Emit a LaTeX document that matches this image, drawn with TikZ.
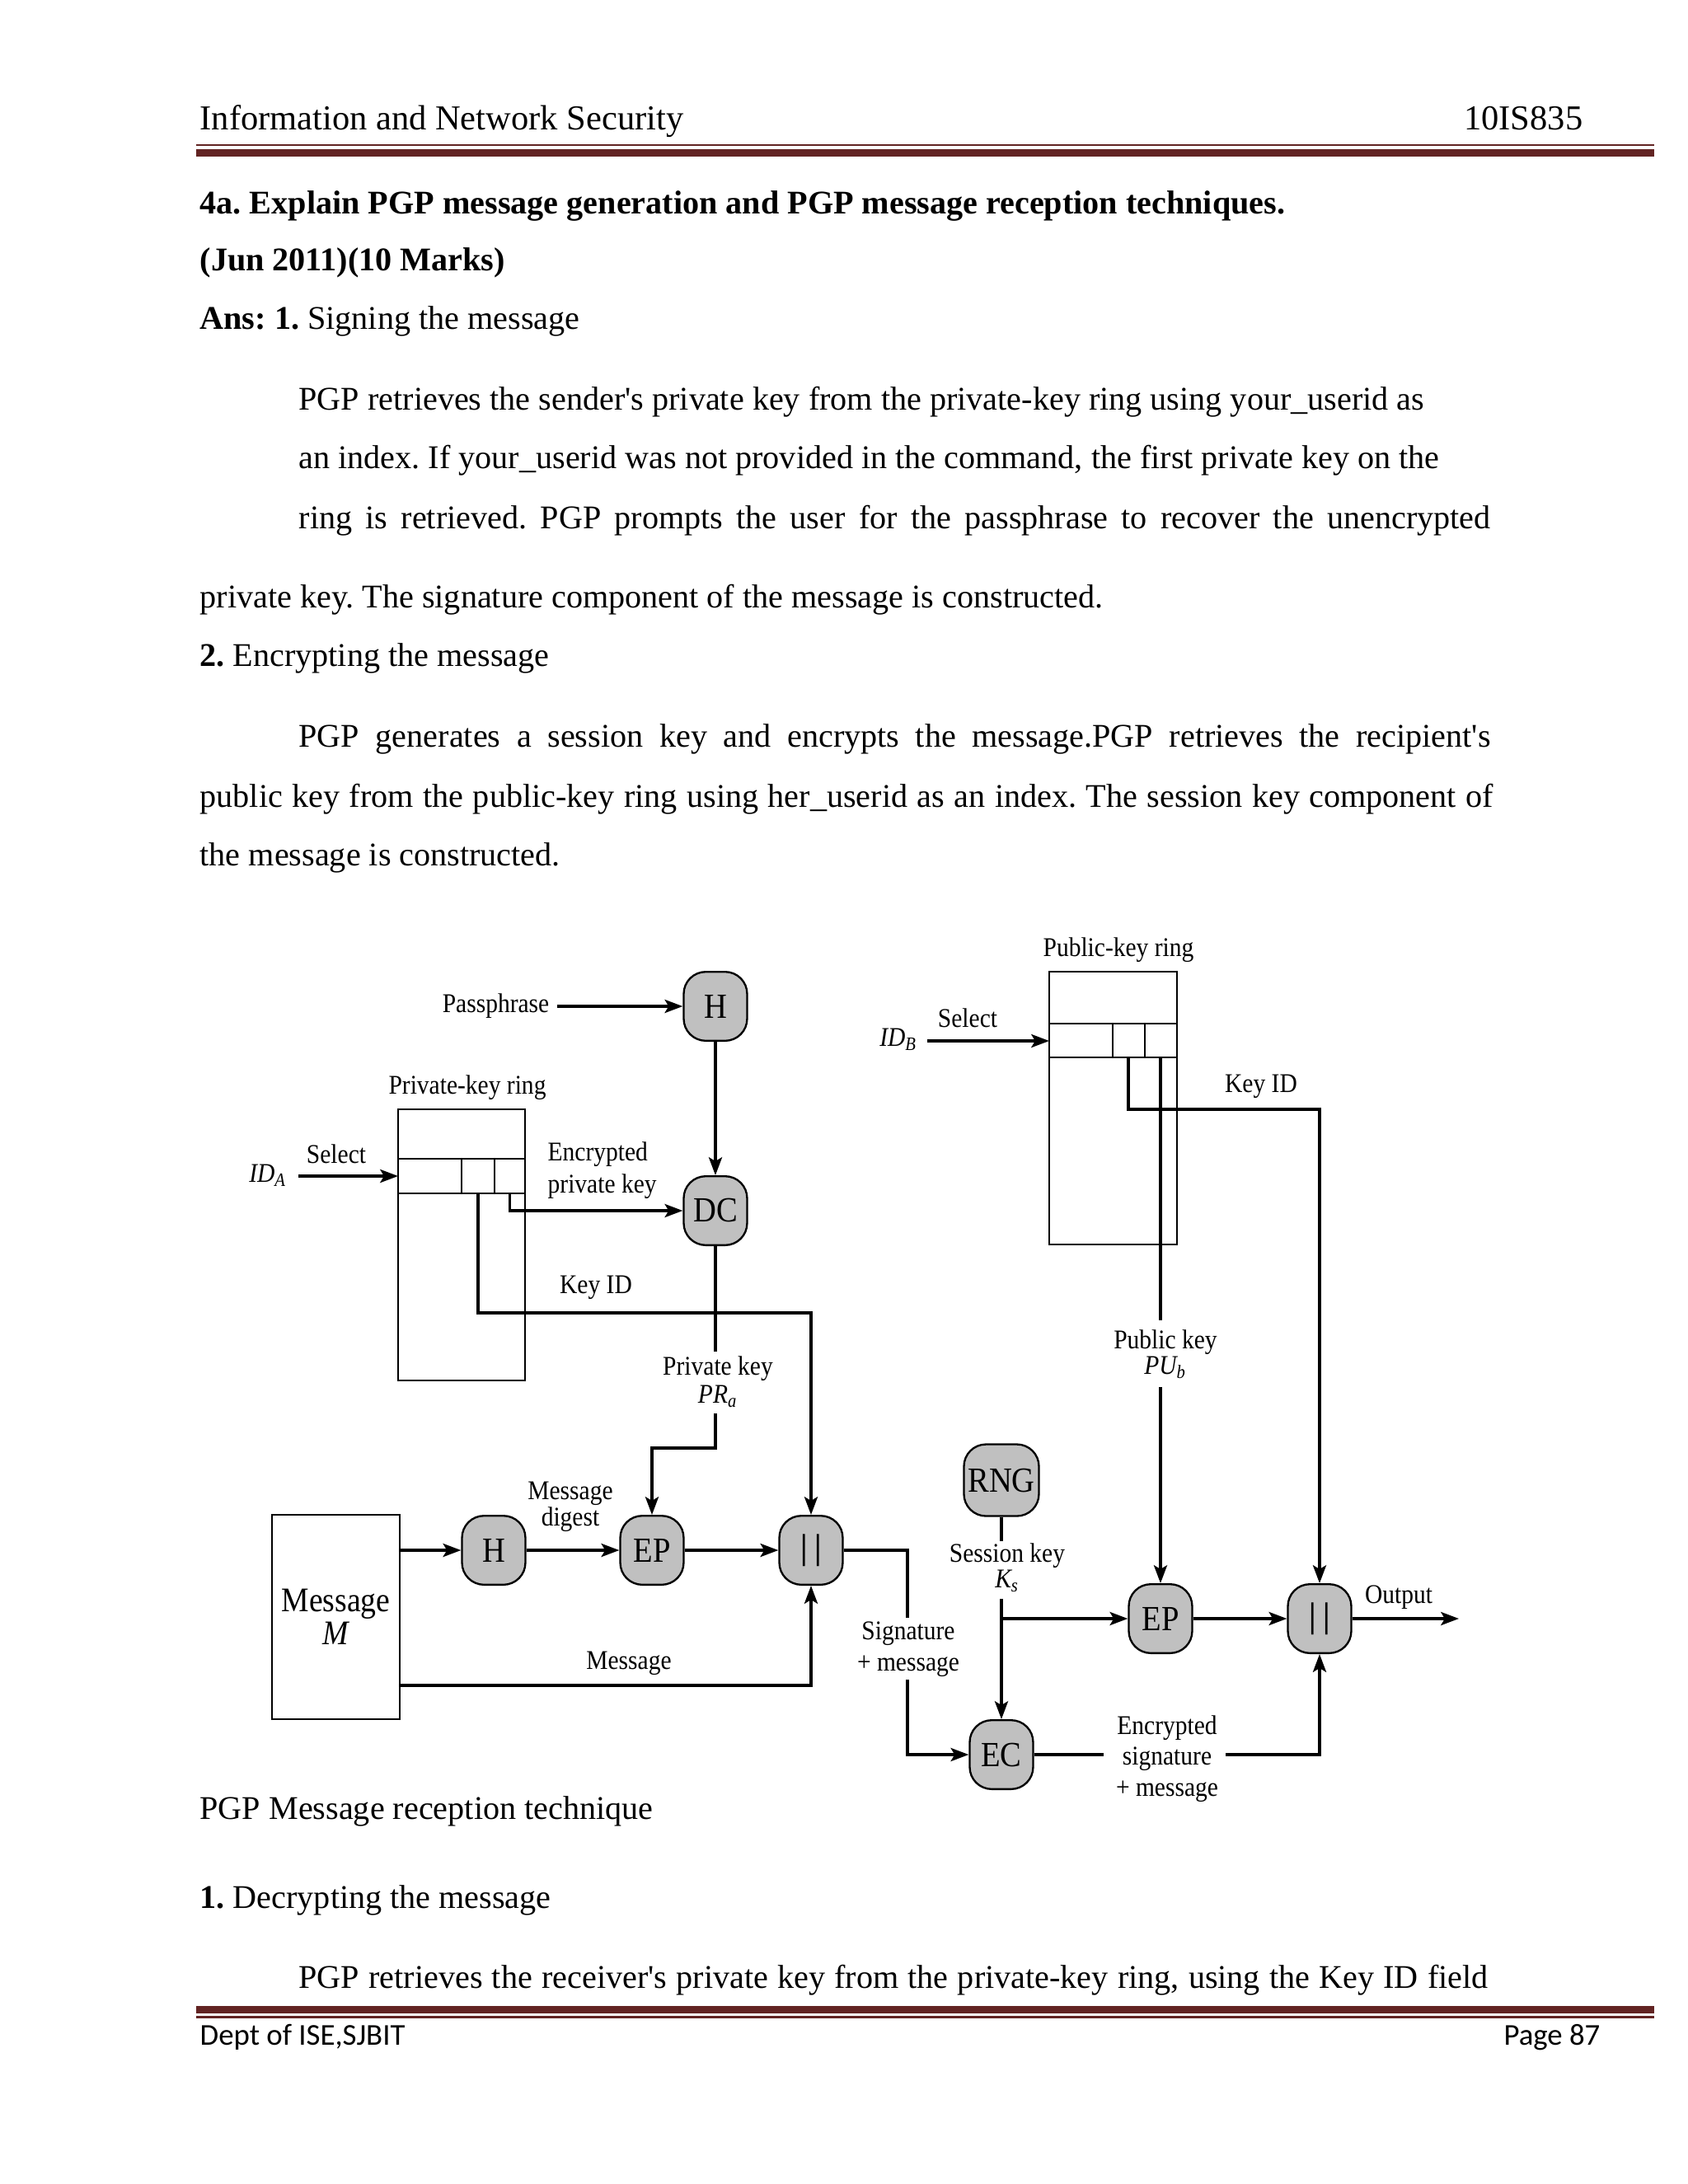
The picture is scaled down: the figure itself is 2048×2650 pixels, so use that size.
\documentclass[tikz,border=0pt]{standalone}
\usepackage{fontspec}
\setmainfont{Liberation Serif}
\newfontfamily\figfont[FakeStretch=0.9]{Liberation Serif}
\newfontfamily\footfont{Carlito}
\usetikzlibrary{arrows.meta}
\definecolor{maroon}{HTML}{622423}
\definecolor{nodegray}{HTML}{C0C0C0}
\frenchspacing
\begin{document}
\begin{tikzpicture}[x=0.298828pt,y=-0.298828pt,
  proc/.style={draw, line width=0.7pt, fill=nodegray, rounded corners=8pt,
    minimum width=23pt, minimum height=25pt, inner sep=0pt,
    font=\figfont\fontsize{12.8}{14}\selectfont},
  lbl/.style={font=\figfont\fontsize{9.8}{11.2}\selectfont, inner sep=0pt, align=center},
  conn/.style={line width=1pt},
  arr/.style={conn, -{Stealth[length=6.5pt,width=4.8pt,inset=1.4pt]}},
  ringline/.style={line width=0.6pt},
  body/.style={anchor=base west, inner sep=0pt, font=\fontsize{12}{14}\selectfont},
  rule/.style={maroon},
]
\useasboundingbox (0,0) rectangle (2048,2650);

% ---------- header ----------
\node[anchor=base west, inner sep=0pt, font=\fontsize{12.7}{14}\selectfont] (hl) at (242,157) {Information and Network Security};
\node[anchor=base east, inner sep=0pt, font=\fontsize{12.7}{14}\selectfont] (hr) at (1921,157) {10IS835};
\draw[rule, line width=0.75pt] (238,176) -- (2007,176);
\draw[rule, line width=2.7pt] (238,185.5) -- (2007,185.5);

% ---------- body text ----------
\node[body] (t1) at (242,259) {\bfseries 4a. Explain PGP message generation and PGP message reception techniques.};
\node[body] (t2) at (242,328) {\bfseries (Jun 2011)(10 Marks)};
\node[body] (t3) at (242,399) {\textbf{Ans: 1.} Signing the message};
\node[body] (t4) at (362,497) {PGP retrieves the sender\textquotesingle s private key from the private-key ring using your\_userid as};
\node[body] (t5) at (362,568) {an index. If your\_userid was not provided in the command, the first private key on the};
\node[body] (t6) at (362,641) {\makebox[432.1pt][s]{ring is retrieved. PGP prompts the user for the passphrase to recover the unencrypted}};
\node[body] (t7) at (242,737) {private key. The signature component of the message is constructed.};
\node[body] (t8) at (242,808) {\textbf{2.} Encrypting the message};
\node[body] (t9) at (362,906) {\makebox[432.1pt][s]{PGP generates a session key and encrypts the message.PGP retrieves the recipient\textquotesingle s}};
\node[body] (t10) at (242,979) {\makebox[468.9pt][s]{public key from the public-key ring using her\_userid as an index. The session key component of}};
\node[body] (t11) at (242,1050) {the message is constructed.};

\node[body] (t12) at (242,2207) {PGP Message reception technique};
\node[body] (t13) at (242,2315) {\textbf{1.} Decrypting the message};
\node[body] (t14) at (362,2412) {\makebox[431.2pt][s]{PGP retrieves the receiver\textquotesingle s private key from the private-key ring, using the Key ID field}};

% ---------- footer ----------
\draw[rule, line width=2.7pt] (238,2438.5) -- (2007,2438.5);
\draw[rule, line width=0.75pt] (238,2447.5) -- (2007,2447.5);
\node[anchor=base west, inner sep=0pt, font=\footfont\fontsize{11}{13}\selectfont] (fl) at (242,2481) {Dept of ISE,SJBIT};
\node[anchor=base east, inner sep=0pt, font=\footfont\fontsize{11}{13}\selectfont] (fr) at (1942,2481) {Page 87};

% ---------- diagram: nodes ----------
\node[proc] (H1) at (868,1221) {H};
\node[proc] (DC) at (868,1469) {DC};
\node[proc] (H2) at (599,1881) {H};
\node[proc] (EP1) at (791,1881) {EP};
\node[proc] (C1) at (984,1881) {\bfseries |\hspace{2.4pt}|};
\node[proc, minimum width=27.2pt, minimum height=26pt] (RNG) at (1215,1796) {RNG};
\node[proc] (EP2) at (1408,1964) {EP};
\node[proc] (C2) at (1601,1964) {\bfseries |\hspace{2.4pt}|};
\node[proc] (EC) at (1215,2129) {EC};

\node[draw, line width=0.6pt, minimum width=46.3pt, minimum height=74.1pt, inner sep=0pt,
  align=center, font=\figfont\fontsize{12.5}{12}\selectfont] (msg) at (407.5,1962) {Message\\\itshape M};

% private-key ring
\draw[ringline] (483,1346) rectangle (637,1675);
\draw[ringline] (483,1406) -- (637,1406) (483,1448) -- (637,1448)
  (560,1406) -- (560,1448) (600,1406) -- (600,1448);
\coordinate (paIn) at (483,1427);
\coordinate (paKey) at (618.5,1448);
\coordinate (paKeyB) at (618.5,1469);
\coordinate (paId) at (580,1448);
\coordinate (kidA) at (580,1593);

% public-key ring
\draw[ringline] (1273,1179) rectangle (1428,1510);
\draw[ringline] (1273,1242) -- (1428,1242) (1273,1283) -- (1428,1283)
  (1350,1242) -- (1350,1283) (1389,1242) -- (1389,1283);
\coordinate (pbIn) at (1273,1263);
\coordinate (pbId) at (1369,1283);
\coordinate (kidB) at (1369,1346);
\coordinate (pbKey) at (1408,1283);

% ---------- diagram: labels ----------
\node[lbl, anchor=east] (pass) at (667,1221) {Passphrase};
\node[lbl] (prl) at (567,1320) {Private-key ring};
\node[lbl] (selA) at (408,1400) {Select};
\node[lbl] (idA) at (325,1426) {\itshape ID\textsubscript{A}};
\node[lbl, align=left, anchor=west, font=\figfont\fontsize{9.8}{11.7}\selectfont] (epk) at (664,1420) {Encrypted\\private key};
\node[lbl] (kidlA) at (723,1562) {Key ID};
\node[lbl, font=\figfont\fontsize{9.8}{10.2}\selectfont] (prk) at (871,1677) {Private key\\\itshape PR\textsubscript{a}};
\node[lbl, font=\figfont\fontsize{9.8}{9.6}\selectfont] (mdg) at (692,1828) {Message\\digest};
\node[lbl] (mlab) at (763,2018) {Message};
\node[lbl, font=\figfont\fontsize{9.8}{11.4}\selectfont] (sigm) at (1102,2001) {Signature\\+ message};
\node[lbl] (pbl) at (1357,1153) {Public-key ring};
\node[lbl] (selB) at (1174,1235) {Select};
\node[lbl] (idB) at (1090,1261) {\itshape ID\textsubscript{B}};
\node[lbl] (kidlB) at (1530,1318) {Key ID};
\node[lbl, font=\figfont\fontsize{9.8}{9.3}\selectfont] (puk) at (1414,1643) {Public key\\\itshape PU\textsubscript{b}};
\node[lbl, font=\figfont\fontsize{9.8}{9.3}\selectfont] (sk) at (1222,1902) {Session key\\\itshape K\textsubscript{s}};
\node[lbl] (outl) at (1697,1938) {Output};
\node[lbl, font=\figfont\fontsize{9.8}{11.2}\selectfont] (esm) at (1416,2134) {Encrypted\\signature\\+ message};

% ---------- diagram: connector points ----------
\coordinate (pvT) at (868,1640);
\coordinate (pvB) at (868,1715);
\coordinate (pvC) at (868,1757);
\coordinate (mOut) at (485,2045);
\coordinate (sigT) at (1101,1963);
\coordinate (sigB) at (1101,2038);
\coordinate (pkT) at (1408,1602);
\coordinate (pkB) at (1408,1683);
\coordinate (skT) at (1215,1870);
\coordinate (skB) at (1215,1940);
\coordinate (skJ) at (1215,1964);
\coordinate (ecL) at (1339,2129);
\coordinate (ecR) at (1487,2129);
\coordinate (outE) at (1770,1964);
\coordinate (idAe) at (362,1427);
\coordinate (idBe) at (1125,1263);
\coordinate (passE) at (676,1221);

% ---------- diagram: connectors ----------
\draw[arr] (passE) -- (H1.west);
\draw[arr] (H1.south) -- (DC.north);
\draw[arr] (idAe) -- (paIn);
\draw[arr] (paKey) -- (paKeyB) -- (DC.west);
\draw[arr] (paId) -- (kidA) -| (C1.north);
\draw[conn] (DC.south) -- (pvT);
\draw[arr] (pvB) -- (pvC) -| (EP1.north);
\draw[arr] (msg.east |- H2.west) -- (H2.west);
\draw[arr] (H2.east) -- (EP1.west);
\draw[arr] (EP1.east) -- (C1.west);
\draw[arr] (mOut) -| (C1.south);
\draw[conn] (C1.east) -| (sigT);
\draw[arr] (sigB) |- (EC.west);
\draw[arr] (idBe) -- (pbIn);
\draw[arr] (pbId) -- (kidB) -| (C2.north);
\draw[conn] (pbKey) -- (pkT);
\draw[arr] (pkB) -- (EP2.north);
\draw[conn] (RNG.south) -- (skT);
\draw[arr] (skB) -- (EC.north);
\draw[arr] (skJ) -- (EP2.west);
\draw[arr] (EP2.east) -- (C2.west);
\draw[arr] (C2.east) -- (outE);
\draw[conn] (EC.east) -- (ecL);
\draw[arr] (ecR) -| (C2.south);
\end{tikzpicture}
\end{document}
